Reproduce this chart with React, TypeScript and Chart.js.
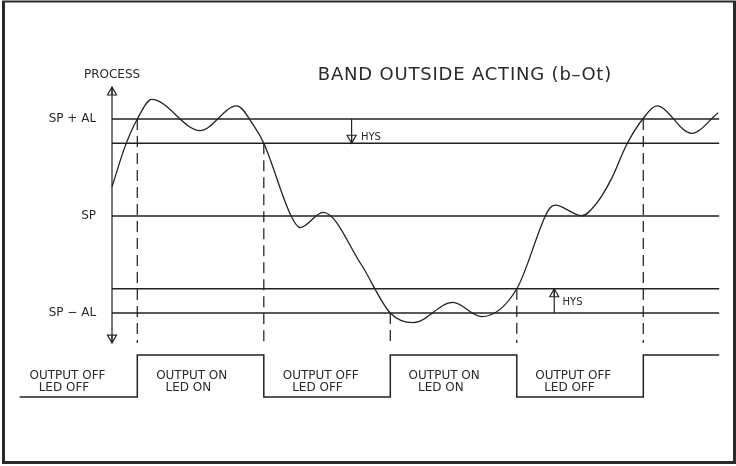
import { useEffect, useRef } from "react";
import { Chart, registerables } from "chart.js";

Chart.register(...registerables);

// Process curve (time units, process units relative to SP; AL = 4, HYS = 1)
const curveT = [0, 0.51, 1.0, 1.57, 3.48, 4.93, 5.59, 6.0, 7.08, 7.43, 8.35, 9.85, 11.0, 11.91, 13.47, 14.61, 16.0, 17.11, 17.31, 17.51, 18.57, 19.15, 19.75, 20.34, 21.0, 21.53, 22.91, 23.96];
const curveV = [1.2, 2.85, 4.0, 4.81, 3.52, 4.54, 3.75, 3.0, 0, -0.48, 0.15, -2.0, -4.0, -4.4, -3.56, -4.15, -3.0, -0.04, 0.33, 0.45, 0.01, 0.52, 1.55, 2.94, 4.03, 4.54, 3.41, 4.26];

// Threshold levels
const levelValues = [4, 3, 0, -3, -4];
const levelStart = 0;
const levelEnd = 24;
const levelLabels = ["SP + AL", "SP", "SP \u2212 AL"];
const levelLabelValues = [4, 0, -4];

// Process axis extent
const axisTop = 5.32;
const axisBottom = -5.24;

// Switching instants and where the dashed markers start
const switchTimes = [1, 6, 11, 16, 21];
const switchFrom = [4, 3, -4, -3, 4];
const dashBottom = -5.24;

// Output state (0 = off, 1 = on)
const outStart = -3.65;
const outEnd = 24;
const outInitial = 0;

// Output texts
const outLine1 = ["OUTPUT OFF", "OUTPUT ON", "OUTPUT OFF", "OUTPUT ON", "OUTPUT OFF"];
const outLine2 = ["LED OFF", "LED ON", "LED OFF", "LED ON", "LED OFF"];
const outLine1T = [-1.76, 3.15, 8.25, 13.13, 18.23];
const outLine2T = [-1.9, 3.02, 8.12, 13.0, 18.08];

// Hysteresis markers
const hysT = [9.47, 17.48];
const hysFrom = [4, -4];
const hysTo = [3, -3];
const hysLabelT = [9.84, 17.81];
const hysLabelV = [3.26, -3.56];

const titleText = "BAND OUTSIDE ACTING (b\u2013Ot)";
const axisLabel = "PROCESS";

const INK = "#222";
const FONT = "'DejaVu Sans', sans-serif";

export default function App() {
  const ref = useRef<HTMLCanvasElement | null>(null);

  useEffect(() => {
    document.body.style.margin = "0";
    const canvas = ref.current;
    if (!canvas) return;

    const line = (pts: { x: number; y: number }[], extra: any = {}) => ({
      data: pts,
      borderColor: INK,
      borderWidth: 1.3,
      pointRadius: 0,
      fill: false,
      tension: 0,
      yAxisID: "y",
      ...extra,
    });

    const datasets: any[] = [];

    datasets.push(
      line(
        curveT.map((t, i) => ({ x: t, y: curveV[i] })),
        { cubicInterpolationMode: "monotone", borderWidth: 1.3 }
      )
    );

    levelValues.forEach((v) =>
      datasets.push(line([{ x: levelStart, y: v }, { x: levelEnd, y: v }]))
    );

    datasets.push(line([{ x: 0, y: axisTop }, { x: 0, y: axisBottom }], { borderWidth: 1.2 }));

    switchTimes.forEach((t, i) =>
      datasets.push(
        line([{ x: t, y: switchFrom[i] }, { x: t, y: dashBottom }], {
          borderDash: [11, 6],
          borderWidth: 1.3,
          borderColor: "#2a2a2a",
        })
      )
    );

    const outPts: { x: number; y: number }[] = [];
    let s = outInitial;
    outPts.push({ x: outStart, y: s });
    switchTimes.forEach((t) => {
      outPts.push({ x: t, y: s });
      s = 1 - s;
      outPts.push({ x: t, y: s });
    });
    outPts.push({ x: outEnd, y: s });
    datasets.push(line(outPts, { yAxisID: "y2", borderWidth: 1.5 }));

    hysT.forEach((t, i) =>
      datasets.push(line([{ x: t, y: hysFrom[i] }, { x: t, y: hysTo[i] }], { borderWidth: 1.2 }))
    );

    const arrows = [
      { t: 0, v: axisTop, up: true },
      { t: 0, v: axisBottom, up: false },
      { t: hysT[0], v: hysTo[0], up: hysTo[0] > hysFrom[0] },
      { t: hysT[1], v: hysTo[1], up: hysTo[1] > hysFrom[1] },
    ];

    const overlay = {
      id: "overlay",
      afterDatasetsDraw(chart: any) {
        const { ctx, scales } = chart;
        const X = scales.x, Y = scales.y, Y2 = scales.y2;
        ctx.save();

        // frame
        ctx.strokeStyle = "#2a2a2a";
        ctx.lineWidth = 3;
        ctx.beginPath();
        ctx.moveTo(3.5, 1.5);
        ctx.lineTo(3.5, 462.5);
        ctx.lineTo(734.5, 462.5);
        ctx.lineTo(734.5, 1.5);
        ctx.stroke();
        ctx.lineWidth = 2;
        ctx.beginPath();
        ctx.moveTo(2, 1.5);
        ctx.lineTo(736, 1.5);
        ctx.stroke();

        // arrowheads
        ctx.strokeStyle = INK;
        ctx.lineWidth = 1.2;
        arrows.forEach((a) => {
          const px = X.getPixelForValue(a.t);
          const py = Y.getPixelForValue(a.v);
          const d = a.up ? 1 : -1;
          ctx.beginPath();
          ctx.moveTo(px, py);
          ctx.lineTo(px - 4.5, py + d * 8);
          ctx.lineTo(px + 4.5, py + d * 8);
          ctx.closePath();
          ctx.stroke();
          ctx.beginPath();
          ctx.moveTo(px, py);
          ctx.lineTo(px, py + d * 8);
          ctx.stroke();
        });

        ctx.fillStyle = "#2a2a2a";
        ctx.textBaseline = "middle";

        // title
        ctx.font = `18px ${FONT}`;
        (ctx as any).letterSpacing = "0.8px";
        ctx.textAlign = "center";
        ctx.fillText(titleText, X.getPixelForValue(13.95), Y.getPixelForValue(5.81));
        (ctx as any).letterSpacing = "0px";

        // axis label
        ctx.font = `12px ${FONT}`;
        ctx.fillText(axisLabel, X.getPixelForValue(0), Y.getPixelForValue(5.81));

        // level labels
        ctx.textAlign = "right";
        levelLabels.forEach((lab, i) => {
          ctx.fillText(lab, X.getPixelForValue(-0.63), Y.getPixelForValue(levelLabelValues[i]));
        });

        // output labels
        ctx.textAlign = "center";
        outLine1.forEach((lab, i) => {
          ctx.fillText(lab, X.getPixelForValue(outLine1T[i]), Y2.getPixelForValue(0.507));
          ctx.fillText(outLine2[i], X.getPixelForValue(outLine2T[i]), Y2.getPixelForValue(0.207));
        });

        // HYS labels
        ctx.font = `10px ${FONT}`;
        ctx.textAlign = "left";
        hysLabelT.forEach((t, i) => {
          ctx.fillText("HYS", X.getPixelForValue(t), Y.getPixelForValue(hysLabelV[i]));
        });

        ctx.restore();
      },
    };

    const chart = new Chart(canvas, {
      type: "line",
      data: { datasets },
      options: {
        animation: false,
        responsive: false,
        maintainAspectRatio: false,
        layout: { padding: 0 },
        plugins: {
          legend: { display: false },
          tooltip: { enabled: false },
          title: { display: false },
        },
        events: [],
        scales: {
          x: { type: "linear", display: false, min: -4.427, max: 24.664 },
          y: { type: "linear", display: false, min: -10.309, max: 8.907 },
          y2: { type: "linear", display: false, min: -1.643, max: 9.452 },
        },
      } as any,
      plugins: [overlay],
    });

    return () => chart.destroy();
  }, []);

  return (
    <div style={{ width: 736, height: 466, background: "#fff" }}>
      <canvas ref={ref} width={736} height={466} style={{ display: "block", width: 736, height: 466 }} />
    </div>
  );
}
